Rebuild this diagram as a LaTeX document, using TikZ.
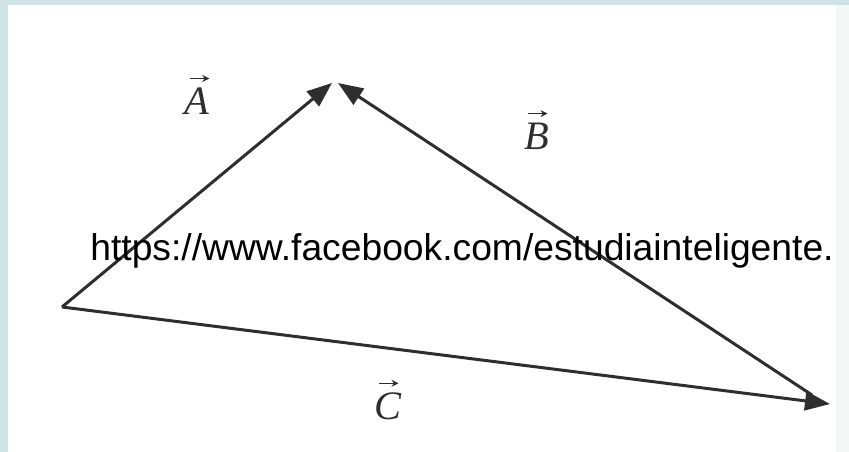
\documentclass[tikz,border=0pt]{standalone}
\usepackage{fontspec}
\setmainfont{Liberation Serif}
\newfontfamily\urlfont{Liberation Sans}
\usetikzlibrary{arrows.meta}
\definecolor{frame}{HTML}{CFE2E6}
\definecolor{edgetint}{HTML}{F2F8F8}
\definecolor{vec}{HTML}{2E2E2E}
\tikzset{
  vecline/.style={draw=vec, line width=1.7pt, -{Triangle[length=0.5cm,width=0.38cm]}},
  veclabel/.style={font=\fontsize{23}{26}\selectfont\itshape, text=vec, inner sep=0pt},
  accent/.style={draw=vec, line width=0.9pt, -{Stealth[length=4pt,width=4pt]}},
  urltext/.style={font=\urlfont\fontsize{21.2}{25}\selectfont, text=black}
}
\begin{document}
\begin{tikzpicture}[x=0.02cm,y=-0.02cm]
  \useasboundingbox (0,0) rectangle (849,452);
  \fill[frame] (0,0) rectangle (849,452);
  \fill[edgetint] (8,5) rectangle (849,452);
  \fill[white] (8,5) rectangle (836,452);
  \coordinate (P) at (62,307);
  \coordinate (TA) at (332,83);
  \coordinate (TB) at (338,83);
  \coordinate (SB) at (812,395);
  \coordinate (Q) at (830,404);
  \draw[vecline] (P) -- (TA);
  \draw[vecline] (SB) -- (TB);
  \draw[vecline] (P) -- (Q);
  \node[veclabel] (la) at (197,101) {A};
  \node[veclabel] (lb) at (537,136) {B};
  \node[veclabel] (lc) at (388,406) {C};
  \draw[accent] ([xshift=-4pt,yshift=5pt]la.north) -- ([xshift=7pt,yshift=5pt]la.north);
  \draw[accent] ([xshift=-5pt,yshift=5pt]lb.north) -- ([xshift=6pt,yshift=5pt]lb.north);
  \draw[accent] ([xshift=-5pt,yshift=5pt]lc.north) -- ([xshift=6pt,yshift=5pt]lc.north);
  \node[urltext] (url) at (462,251) {https://www.facebook.com/estudiainteligente.};
\end{tikzpicture}
\end{document}
